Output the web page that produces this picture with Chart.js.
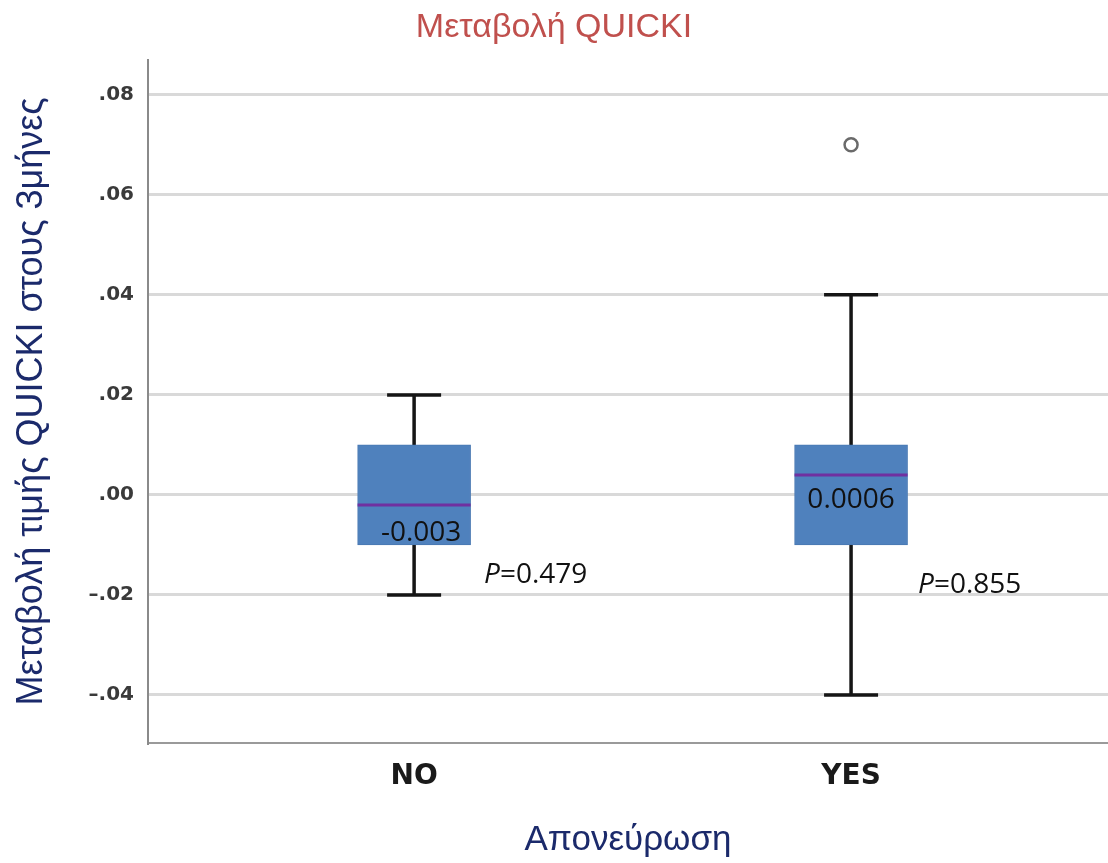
<!DOCTYPE html>
<html>
<head>
<meta charset="utf-8">
<script src="https://cdn.jsdelivr.net/npm/chart.js@4"></script>
<style>
  html, body { margin: 0; padding: 0; background: #ffffff; }
  #wrap { width: 1108px; height: 863px; }
</style>
</head>
<body>
<div id="wrap"><canvas id="boxChart" width="1108" height="863"></canvas></div>
<script>
// box plot data per group
const categories = ['NO', 'YES'];
const q1 = [-0.01, -0.01];
const q3 = [0.01, 0.01];
const medians = [-0.002, 0.004];
const whiskerLow = [-0.02, -0.04];
const whiskerHigh = [0.02, 0.04];
const outlierGroup = [2];
const outlierValue = [0.07];
const meanLabels = ['-0.003', '0.0006'];
const pValues = ['0.479', '0.855'];
const yTicks = [-0.04, -0.02, 0, 0.02, 0.04, 0.06, 0.08];

const BLUE = '#4f81bd';
const NAVY = '#1b2a6b';

function formatTick(v) {
    const s = Math.abs(v).toFixed(2).replace(/^0/, '');
    return (v < -1e-9 ? '\u2013' : '') + s;
}

// whiskers go under the boxes, medians and text on top
const boxExtras = {
    id: 'boxExtras',
    beforeDatasetsDraw(chart) {
        const ctx = chart.ctx;
        const x = chart.scales.x, y = chart.scales.y;
        ctx.save();
        ctx.strokeStyle = '#151515';
        ctx.lineWidth = 3.5;
        categories.forEach((c, i) => {
            const px = x.getPixelForValue(i + 1);
            const top = y.getPixelForValue(whiskerHigh[i]);
            const bot = y.getPixelForValue(whiskerLow[i]);
            ctx.beginPath();
            ctx.moveTo(px, top);
            ctx.lineTo(px, bot);
            ctx.moveTo(px - 27, top);
            ctx.lineTo(px + 27, top);
            ctx.moveTo(px - 27, bot);
            ctx.lineTo(px + 27, bot);
            ctx.stroke();
        });
        ctx.restore();
    },
    afterDatasetsDraw(chart) {
        const ctx = chart.ctx;
        const x = chart.scales.x, y = chart.scales.y;
        const bars = chart.getDatasetMeta(0).data;
        const meanOffset = [{ dx: 7, dy: 28 }, { dx: 0, dy: 25 }];
        const pOffset = [{ dx: 70, y: -0.016 }, { dx: 67, y: -0.018 }];
        ctx.save();
        categories.forEach((c, i) => {
            const px = x.getPixelForValue(i + 1);
            const my = y.getPixelForValue(medians[i]);
            const w = bars[i].width;
            ctx.strokeStyle = '#7030a0';
            ctx.lineWidth = 3;
            ctx.beginPath();
            ctx.moveTo(px - w / 2, my);
            ctx.lineTo(px + w / 2, my);
            ctx.stroke();

            ctx.fillStyle = '#111111';
            ctx.textBaseline = 'middle';
            ctx.textAlign = 'center';
            ctx.font = '28px "Open Sans"';
            ctx.fillText(meanLabels[i], px + meanOffset[i].dx, my + meanOffset[i].dy);

            const lx = px + pOffset[i].dx;
            const ly = y.getPixelForValue(pOffset[i].y);
            ctx.textAlign = 'left';
            ctx.font = 'italic 28px "Open Sans"';
            ctx.fillText('P', lx, ly);
            const pw = ctx.measureText('P').width;
            ctx.font = '28px "Open Sans"';
            ctx.fillText('=' + pValues[i], lx + pw, ly);
        });
        ctx.restore();
    }
};

const ctx = document.getElementById('boxChart').getContext('2d');
new Chart(ctx, {
    type: 'bar',
    data: {
        datasets: [{
            data: categories.map((c, i) => ({ x: i + 1, y: [q1[i], q3[i]] })),
            backgroundColor: BLUE,
            borderColor: '#4878b2',
            borderWidth: 1,
            borderSkipped: false,
            barThickness: 113
        }, {
            type: 'scatter',
            data: outlierValue.map((v, i) => ({ x: outlierGroup[i], y: v })),
            pointStyle: 'circle',
            pointRadius: 6.5,
            pointBackgroundColor: '#ffffff',
            pointBorderColor: '#6a6a6a',
            pointBorderWidth: 2.5
        }]
    },
    options: {
        responsive: false,
        animation: false,
        layout: { padding: 0, autoPadding: false },
        plugins: {
            legend: { display: false },
            tooltip: { enabled: false },
            title: {
                display: true,
                text: 'Μεταβολή QUICKI',
                color: '#c0504d',
                font: { family: 'Liberation Sans', size: 34, weight: 'normal' },
                padding: { top: 7, bottom: 12 }
            }
        },
        scales: {
            x: {
                type: 'linear',
                min: 0.391,
                max: 2.588,
                offset: false,
                afterBuildTicks: (scale) => {
                    scale.ticks = categories.map((c, i) => ({ value: i + 1 }));
                },
                afterFit: (scale) => { scale.height = 120; },
                grid: { display: false, drawTicks: false },
                border: { display: true, color: '#9a9a9a', width: 2 },
                ticks: {
                    padding: 17,
                    color: '#1a1a1a',
                    font: { family: 'DejaVu Sans', size: 28, weight: 'bold' },
                    callback: (v) => categories[v - 1] || ''
                },
                title: {
                    display: true,
                    text: 'Απονεύρωση',
                    color: NAVY,
                    font: { family: 'Liberation Sans', size: 35 },
                    padding: { top: 0, bottom: 2 }
                }
            },
            y: {
                min: -0.0496,
                max: 0.087,
                afterBuildTicks: (scale) => {
                    scale.ticks = yTicks.map(v => ({ value: v }));
                },
                afterFit: (scale) => { scale.width = 148; },
                grid: { color: '#d9d9d9', lineWidth: 3, drawTicks: false },
                border: { display: true, color: '#8a8a8a', width: 2 },
                ticks: {
                    padding: 14,
                    color: '#3a3a3a',
                    font: { family: 'DejaVu Sans', size: 20, weight: 'bold' },
                    callback: (v) => formatTick(v)
                },
                title: {
                    display: true,
                    text: 'Μεταβολή τιμής QUICKI στους 3μήνες',
                    color: NAVY,
                    font: { family: 'Liberation Sans', size: 36 },
                    padding: { top: 10, bottom: 0 }
                }
            }
        }
    },
    plugins: [boxExtras]
});
</script>
</body>
</html>
